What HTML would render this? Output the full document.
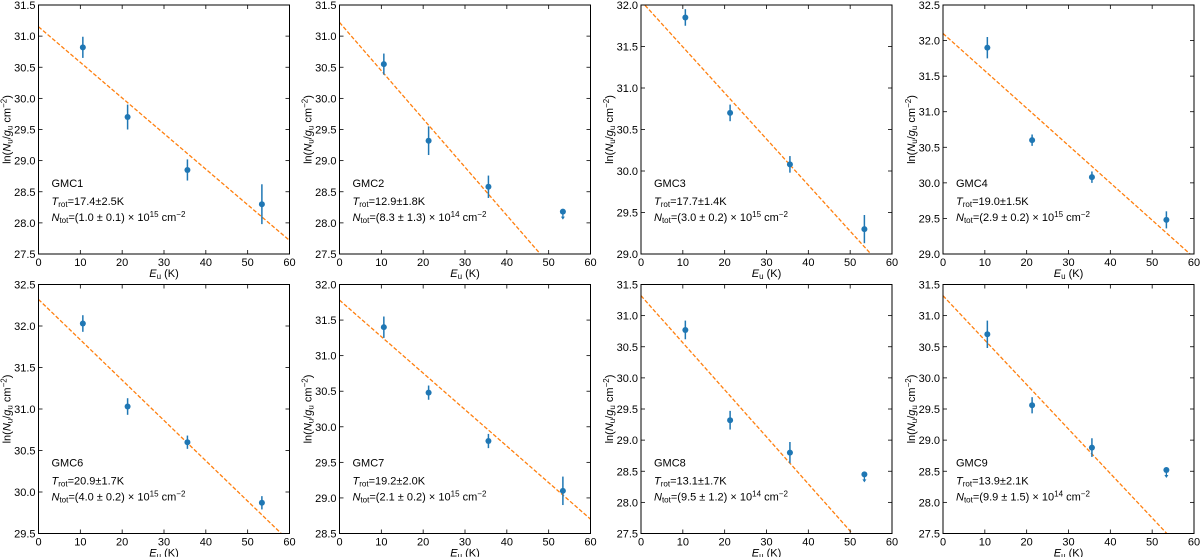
<!DOCTYPE html>
<html><head><meta charset="utf-8">
<style>
html,body{margin:0;padding:0;background:#fff;}
svg{display:block;font-family:"Liberation Sans","DejaVu Sans",sans-serif;}
</style></head>
<body>
<svg id="fig" width="1200" height="557" viewBox="0 0 1200 557" xmlns="http://www.w3.org/2000/svg"></svg>
<script>
// ---- data ----
const panelNames = ["GMC1","GMC2","GMC3","GMC4","GMC6","GMC7","GMC8","GMC9"];
const tRot = ["17.4±2.5K","12.9±1.8K","17.7±1.4K","19.0±1.5K","20.9±1.7K","19.2±2.0K","13.1±1.7K","13.9±2.1K"];
const nTotMant = ["(1.0 ± 0.1)","(8.3 ± 1.3)","(3.0 ± 0.2)","(2.9 ± 0.2)","(4.0 ± 0.2)","(2.1 ± 0.2)","(9.5 ± 1.2)","(9.9 ± 1.5)"];
const nTotExp = ["15","14","15","15","15","15","14","14"];
const yMin = [27.5,27.5,29.0,29.0,29.5,28.5,27.5,27.5];
const yMax = [31.5,31.5,32.0,32.5,32.5,32.0,31.5,31.5];
const fitIntercept = [31.15,31.22,32.05,32.1,32.32,31.78,31.32,31.32];
const fitSlope = [-0.0572,-0.0775,-0.0555,-0.0525,-0.0486,-0.0513,-0.0756,-0.0714];
const eu = [10.6,21.3,35.6,53.4];
const lnN = [
 [30.82,29.70,28.85,28.30],
 [30.55,29.32,28.58,28.18],
 [31.85,30.70,30.08,29.30],
 [31.90,30.60,30.08,29.48],
 [32.03,31.03,30.60,29.87],
 [31.40,30.48,29.80,29.10],
 [30.77,29.32,28.80,28.45],
 [30.70,29.56,28.88,28.52]
];
const lnErr = [
 [0.17,0.20,0.17,0.32],
 [0.17,0.23,0.18,0],
 [0.10,0.10,0.10,0.17],
 [0.15,0.08,0.08,0.12],
 [0.10,0.10,0.08,0.08],
 [0.15,0.10,0.10,0.20],
 [0.15,0.15,0.17,0],
 [0.22,0.13,0.15,0]
];
const isLimit = [
 [0,0,0,0],[0,0,0,1],[0,0,0,0],[0,0,0,0],
 [0,0,0,0],[0,0,0,0],[0,0,0,1],[0,0,0,1]
];
const xTicks = [0,10,20,30,40,50,60];

// ---- drawing ----
const NS="http://www.w3.org/2000/svg";
const fig=document.getElementById('fig');
const colLeft=[38.5,339.5,641,943];
const rowTop=[5,284.5];
const PW=251, PH=249;
function mk(tag,attrs,parent){const e=document.createElementNS(NS,tag);for(const k in attrs)e.setAttribute(k,attrs[k]);(parent||fig).appendChild(e);return e;}

for(let p=0;p<8;p++){
  const L=colLeft[p%4], T=rowTop[Math.floor(p/4)];
  const g=mk('g',{});
  
  
  const xs=v=>L+(v-0)/60*PW;
  const ys=v=>T+PH-(v-yMin[p])/(yMax[p]-yMin[p])*PH;
  const clip=mk('clipPath',{id:'c'+p},g);
  mk('rect',{x:L,y:T,width:PW,height:PH},clip);
  // fit line
  const x0=0,x1=60;
  const fl=mk('line',{x1:xs(x0),y1:ys(fitIntercept[p]+fitSlope[p]*x0),x2:xs(x1),y2:ys(fitIntercept[p]+fitSlope[p]*x1),stroke:'#ff7f0e','stroke-width':1.3,'stroke-dasharray':'4,2','clip-path':'url(#c'+p+')'},g);
  
  
  // points
  for(let i=0;i<eu.length;i++){
    const cx=xs(eu[i]), cy=ys(lnN[p][i]);
    if(isLimit[p][i]){
      const a=mk('line',{x1:cx,y1:cy,x2:cx,y2:cy+7,stroke:'#1f77b4','stroke-width':1.3},g);
      
      
      mk('path',{d:`M${cx-2} ${cy+5} L${cx+2} ${cy+5} L${cx} ${cy+8} Z`,fill:'#1f77b4'},g);
    } else {
      const e=mk('line',{x1:cx,y1:ys(lnN[p][i]+lnErr[p][i]),x2:cx,y2:ys(lnN[p][i]-lnErr[p][i]),stroke:'#1f77b4','stroke-width':1.5},g);
      
      
    }
    const c=mk('circle',{cx:cx,cy:cy,r:3,fill:'#1f77b4'},g);
    
    
  }
  // frame
  const fr=mk('rect',{x:L,y:T,width:PW,height:PH,fill:'none',stroke:'#000','stroke-width':1},g);
  
  
  // x ticks
  for(const t of xTicks){
    const x=xs(t);
    mk('line',{x1:x,y1:T+PH,x2:x,y2:T+PH-4,stroke:'#000','stroke-width':0.8},g);
    mk('line',{x1:x,y1:T,x2:x,y2:T+4,stroke:'#000','stroke-width':0.8},g);
    const tx=mk('text',{x:x,y:T+PH+12,'font-size':11,'text-anchor':'middle',fill:'#000'},g);
    tx.textContent=t;
    
    
  }
  // y ticks
  for(let v=yMin[p];v<=yMax[p]+1e-9;v+=0.5){
    const y=ys(v);
    mk('line',{x1:L,y1:y,x2:L+4,y2:y,stroke:'#000','stroke-width':0.8},g);
    mk('line',{x1:L+PW,y1:y,x2:L+PW-4,y2:y,stroke:'#000','stroke-width':0.8},g);
    const ty=mk('text',{x:L-3,y:y+4,'font-size':11,'text-anchor':'end',fill:'#000'},g);
    ty.textContent=v.toFixed(1);
    
    
  }
  // axis titles
  const xt=mk('text',{x:L+PW/2,y:T+PH+23,'font-size':11,'text-anchor':'middle',fill:'#000'},g);
  xt.innerHTML='<tspan font-style="italic">E</tspan><tspan font-size="8" dy="2">u</tspan><tspan dy="-2"> (K)</tspan>';
  
  
  const yt=mk('text',{x:0,y:0,'font-size':11,'text-anchor':'middle',fill:'#000',transform:`translate(${L-28},${T+PH/2}) rotate(-90)`},g);
  yt.innerHTML='ln(<tspan font-style="italic">N</tspan><tspan font-size="8" dy="2">u</tspan><tspan dy="-2">/</tspan><tspan font-style="italic">g</tspan><tspan font-size="8" dy="2">u</tspan><tspan dy="-2"> cm</tspan><tspan font-size="8" dy="-4">−2</tspan><tspan dy="4">)</tspan>';
  
  
  // annotations
  const a1=mk('text',{x:L+13,y:T+182,'font-size':11,fill:'#000'},g);
  a1.textContent=panelNames[p];
  
  
  const a2=mk('text',{x:L+13,y:T+200,'font-size':11,fill:'#000'},g);
  a2.innerHTML='<tspan font-style="italic">T</tspan><tspan font-size="8" dy="2">rot</tspan><tspan dy="-2">='+tRot[p]+'</tspan>';
  
  
  const a3=mk('text',{x:L+13,y:T+216,'font-size':11,fill:'#000'},g);
  a3.innerHTML='<tspan font-style="italic">N</tspan><tspan font-size="8" dy="2">tot</tspan><tspan dy="-2">='+nTotMant[p]+' × 10</tspan><tspan font-size="8" dy="-4">'+nTotExp[p]+'</tspan><tspan dy="4"> cm</tspan><tspan font-size="8" dy="-4">−2</tspan>';
  
  
}
</script>
</body></html>
